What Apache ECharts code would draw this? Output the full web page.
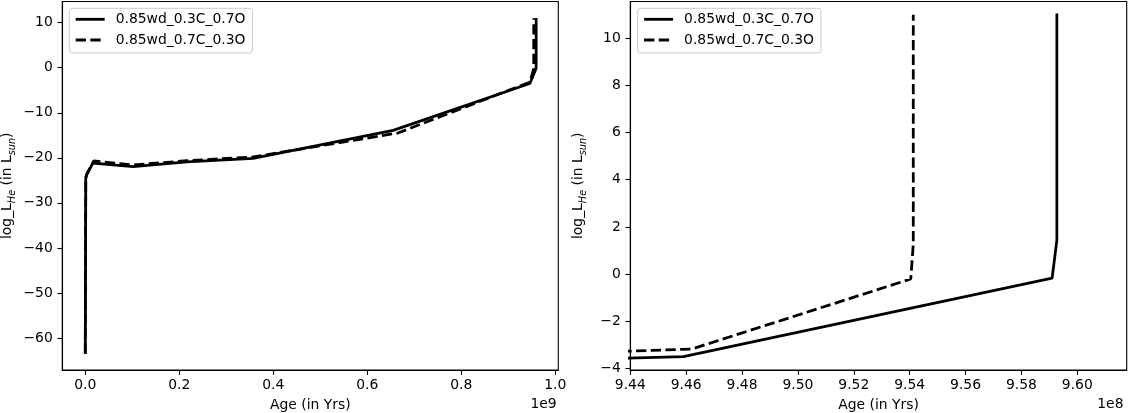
<!DOCTYPE html>
<html><head><meta charset="utf-8">
<script src="https://cdn.jsdelivr.net/npm/echarts@6/dist/echarts.min.js"></script>
<style>html,body{margin:0;padding:0;background:#fff}#c{width:1128px;height:413px}</style>
</head><body><div id="c"></div>
<script>
// ---- data (ages in years, log L_He in L_sun) ----
const seriesNames = ['0.85wd_0.3C_0.7O', '0.85wd_0.7C_0.3O'];
const ageA = [0, 1.0e6, 3.0e6, 16e6, 102e6, 216e6, 357e6, 655e6, 945.9e6, 959.1e6, 959.27e6, 959.27e6];
const lumA = [-63.5, -24.5, -23.8, -21.2, -21.95, -20.9, -20.1, -13.9, -3.5, -0.17, 1.44, 11.05];
const ageB = [0, 1.0e6, 3.0e6, 18e6, 100e6, 216e6, 357e6, 665e6, 946.2e6, 954.04e6, 954.13e6, 954.13e6];
const lumB = [-63.5, -24.5, -23.6, -20.7, -21.6, -20.65, -19.8, -14.5, -3.18, -0.21, 1.27, 11.0];
// tick labels
const leftXTicks = [0.0, 0.2, 0.4, 0.6, 0.8, 1.0];      // x 1e9
const leftYTicks = [10, 0, -10, -20, -30, -40, -50, -60];
const rightXTicks = [9.44, 9.46, 9.48, 9.50, 9.52, 9.54, 9.56, 9.58, 9.60]; // x 1e8
const rightYTicks = [10, 8, 6, 4, 2, 0, -2, -4];

const FONT = 'DejaVu Sans';
const FS = 13.9;
const LW = 2.78;
const DASH = [10.3, 4.4];
const pairs = (xs, ys) => xs.map((x, i) => [x, ys[i]]);
const minus = s => String(s).replace('-', '\u2212');

const axisCommon = {
  type: 'value', scale: true,
  splitLine: { show: false },
  axisLine: { show: true, onZero: false, lineStyle: { color: '#000', width: 1.1 } },
  axisTick: { show: true, length: 4.9, lineStyle: { color: '#000', width: 1.1 } },
};
const labelCommon = { color: '#000', fontSize: FS, fontFamily: FONT };
const yName = 'log_L{sub|He} (in L{sub|sun})';
const yNameStyle = {
  color: '#000', fontSize: FS, fontFamily: FONT, lineHeight: 20,
  rich: { sub: { fontSize: 9.7, fontStyle: 'italic', fontFamily: FONT, lineHeight: 10, verticalAlign: 'bottom', color: '#000' } }
};
const xNameStyle = { color: '#000', fontSize: FS, fontFamily: FONT, lineHeight: 14 };

function mkSeries(idx) {
  return [
    { name: seriesNames[0], type: 'line', xAxisIndex: idx, yAxisIndex: idx, data: pairs(ageA, lumA),
      symbol: 'none', clip: true, lineStyle: { color: '#000', width: LW, type: 'solid', cap: 'butt' }, itemStyle: { color: '#000' } },
    { name: seriesNames[1], type: 'line', xAxisIndex: idx, yAxisIndex: idx, data: pairs(ageB, lumB),
      symbol: 'none', clip: true, lineStyle: { color: '#000', width: LW, type: DASH, cap: 'butt' }, itemStyle: { color: '#000' } }
  ];
}
function mkLegend(left) {
  return {
    orient: 'vertical', left: left, top: 8.3, padding: [4, 7, 6, 5],
    itemWidth: 29, itemHeight: 14, itemGap: 6.7,
    backgroundColor: 'rgba(255,255,255,0.8)', borderColor: '#cccccc', borderWidth: 1, borderRadius: 3,
    itemStyle: { opacity: 0 },
    lineStyle: { width: LW },
    textStyle: { color: '#000', fontSize: FS, fontFamily: FONT, lineHeight: 14, padding: [0, 0, 0, 6] },
    data: seriesNames, selectedMode: false
  };
}

const option = {
  animation: false,
  backgroundColor: '#fff',
  grid: [
    { left: 62.3, top: 1.5, width: 496, height: 368.5, outerBoundsMode: 'none', containLabel: false,
      show: true, borderColor: '#000', borderWidth: 1.1, backgroundColor: 'transparent' },
    { left: 630.3, top: 1.5, width: 496.4, height: 368.5, outerBoundsMode: 'none', containLabel: false,
      show: true, borderColor: '#000', borderWidth: 1.1, backgroundColor: 'transparent' }
  ],
  xAxis: [
    Object.assign({}, axisCommon, {
      gridIndex: 0, min: -0.0489e9, max: 1.0064e9,
      name: 'Age (in Yrs)', nameLocation: 'middle', nameGap: 28, nameTextStyle: xNameStyle,
      axisTick: Object.assign({}, axisCommon.axisTick, { customValues: leftXTicks.map(v => v * 1e9) }),
      axisLabel: Object.assign({}, labelCommon, { margin: 8.5, customValues: leftXTicks.map(v => v * 1e9),
        formatter: v => (v / 1e9).toFixed(1) })
    }),
    Object.assign({}, axisCommon, {
      gridIndex: 1, min: 9.44e8, max: 9.6177e8,
      name: 'Age (in Yrs)', nameLocation: 'middle', nameGap: 28, nameTextStyle: xNameStyle,
      axisTick: Object.assign({}, axisCommon.axisTick, { customValues: rightXTicks.map(v => Math.round(v * 100) * 1e6) }),
      axisLabel: Object.assign({}, labelCommon, { margin: 8.5, customValues: rightXTicks.map(v => Math.round(v * 100) * 1e6),
        formatter: v => (v / 1e8).toFixed(2) })
    })
  ],
  yAxis: [
    Object.assign({}, axisCommon, {
      gridIndex: 0, min: -67.1, max: 14.7,
      name: yName, nameLocation: 'middle', nameGap: 44.8, nameTextStyle: yNameStyle,
      axisTick: Object.assign({}, axisCommon.axisTick, { customValues: leftYTicks }),
      axisLabel: Object.assign({}, labelCommon, { margin: 9.5, customValues: leftYTicks, formatter: v => minus(v) })
    }),
    Object.assign({}, axisCommon, {
      gridIndex: 1, min: -4.07, max: 11.56,
      name: yName, nameLocation: 'middle', nameGap: 42.3, nameTextStyle: yNameStyle,
      axisTick: Object.assign({}, axisCommon.axisTick, { customValues: rightYTicks }),
      axisLabel: Object.assign({}, labelCommon, { margin: 9.5, customValues: rightYTicks, formatter: v => minus(v) })
    })
  ],
  legend: [mkLegend(69.3), mkLegend(637.7)],
  graphic: [
    { type: 'text', right: 1128 - 556.7, top: 397, style: { text: '1e9', fill: '#000', font: FS + 'px "' + FONT + '"' } },
    { type: 'text', right: 1128 - 1123.5, top: 397, style: { text: '1e8', fill: '#000', font: FS + 'px "' + FONT + '"' } }
  ],
  series: mkSeries(0).concat(mkSeries(1))
};
const chart = echarts.init(document.getElementById('c'), null, { renderer: 'canvas' });
chart.setOption(option);
</script>
</body></html>
